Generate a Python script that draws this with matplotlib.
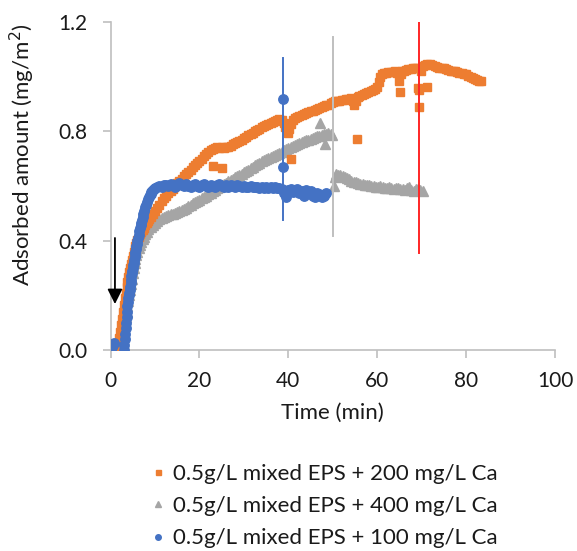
import matplotlib
matplotlib.use("Agg")
import matplotlib.pyplot as plt
from matplotlib.lines import Line2D

# ---------------- data ----------------
t_200 = [1.4, 1.6, 1.8, 2.0, 2.2, 2.4, 2.6, 2.8, 3.0, 3.2, 3.4, 3.6, 3.8, 4.0, 4.2, 4.4, 4.6, 4.8, 5.0,
         5.2, 5.4, 5.6, 5.8, 6.0, 6.3, 6.6, 6.9, 7.2, 7.5, 7.8, 8.1, 8.4, 8.7, 9.0, 9.5, 10, 10.5, 11, 11.5,
         12, 12.5, 13, 13.5, 14, 14.5, 15, 15.5, 16,
         16.5, 17, 17.5, 18, 18.5, 19, 19.5, 20, 20.5, 21, 21.5, 22, 22.5, 23, 23.5, 24, 24.5, 25, 25.5, 26,
         26.5, 27, 27.5, 28, 28.5, 29, 29.5, 30, 30.5, 31, 31.5, 32, 32.5, 33, 33.5, 34, 34.5, 35, 35.5, 36,
         36.5, 37, 37.5, 38, 38.5, 39, 39.3, 39.6, 39.9, 40.2, 40.5, 41, 41.5, 42, 42.5, 43, 43.5, 44, 44.5, 45,
         45.5, 46, 46.5, 47, 47.5, 48, 48.5, 49, 49.5, 50, 50.5, 51, 51.5, 52, 52.5, 53, 53.5, 54, 54.5, 54.8,
         55.2, 55.6, 56, 56.5, 57, 57.5, 58, 58.5, 59, 59.5, 60, 60.3, 60.6, 61, 61.5, 62, 62.5, 63, 63.5, 64,
         64.5, 65, 65.3, 65.6, 66, 66.5, 67, 67.5, 68, 68.5, 68.9, 69.1, 69.3, 69.5, 69.8, 70.2, 70.7, 71.2, 71.8, 72.3,
         73, 73.5, 74, 74.5, 75, 75.5, 76, 76.5, 77, 77.5, 78, 78.5, 79, 79.5, 80, 80.5, 81, 81.5, 82, 82.5,
         83, 83.4,
         23.0, 25.1, 40.7, 55.4, 65.2, 71.2]
v_200 = [0.0, 0.01, 0.025, 0.045, 0.065, 0.09, 0.115, 0.14, 0.165, 0.19, 0.21, 0.23, 0.25, 0.268, 0.285, 0.3, 0.315, 0.33, 0.344,
         0.358, 0.37, 0.382, 0.393, 0.403, 0.413, 0.423, 0.432, 0.44, 0.448, 0.456, 0.464, 0.472, 0.48, 0.487, 0.497, 0.507, 0.52, 0.532, 0.544,
         0.555, 0.565, 0.575, 0.583, 0.59, 0.6, 0.61, 0.618, 0.626,
         0.635, 0.645, 0.652, 0.66, 0.668, 0.676, 0.684, 0.692, 0.70, 0.708, 0.716, 0.724, 0.73, 0.735, 0.74, 0.742, 0.738, 0.743, 0.74, 0.744,
         0.742, 0.746, 0.752, 0.757, 0.762, 0.766, 0.77, 0.775, 0.78, 0.785, 0.79, 0.795, 0.80, 0.804, 0.81, 0.815, 0.82, 0.824, 0.828, 0.832,
         0.835, 0.838, 0.84, 0.845, 0.842, 0.83, 0.815, 0.80, 0.795, 0.81, 0.826, 0.84, 0.848, 0.853, 0.856, 0.86, 0.864, 0.868, 0.872, 0.875,
         0.876, 0.878, 0.882, 0.886, 0.89, 0.893, 0.895, 0.898, 0.902, 0.907, 0.91, 0.91, 0.912, 0.914, 0.916, 0.918, 0.92, 0.922, 0.91, 0.895,
         0.91, 0.925, 0.93, 0.934, 0.937, 0.94, 0.943, 0.946, 0.95, 0.955, 0.962, 0.98, 1.0, 1.01, 1.012, 1.015, 1.016, 1.017, 1.018, 1.02,
         1.015, 0.985, 1.01, 1.02, 1.022, 1.025, 1.027, 1.028, 1.03, 1.032, 1.03, 0.96, 0.89, 0.95, 1.02, 1.038, 1.042, 1.045, 1.045, 1.044,
         1.04, 1.035, 1.032, 1.03, 1.03, 1.028, 1.025, 1.022, 1.02, 1.02, 1.018, 1.015, 1.012, 1.01, 1.008, 1.003, 0.998, 0.994, 0.99, 0.987,
         0.985, 0.984,
         0.674, 0.665, 0.699, 0.772, 0.945, 0.962]

t_400 = [1.4, 1.6, 1.8, 2.0, 2.2, 2.4, 2.6, 2.8, 3.0, 3.2, 3.4, 3.6, 3.8, 4.0, 4.2, 4.4, 4.6, 4.8, 5.0, 5.2,
         5.4, 5.6, 5.8, 6.0, 6.3, 6.6, 6.9, 7.2, 7.5, 7.8, 8.1, 8.5, 9.0, 9.5, 10, 10.5, 11, 11.5, 12, 12.5,
         13, 13.5, 14, 14.5, 15, 15.5, 16,
         16.5, 17, 17.5, 18, 18.5, 19, 19.5, 20, 20.5, 21, 21.5, 22, 22.5, 23, 23.5, 24, 24.5, 25, 25.5, 26,
         26.5, 27, 27.5, 28, 28.5, 29, 29.5, 30, 30.5, 31, 31.5, 32, 32.5, 33, 33.5, 34, 34.5, 35, 35.5, 36,
         36.5, 37, 37.5, 38, 38.5, 39, 39.5, 40, 40.5, 41, 41.5, 42, 42.5, 43, 43.5, 44, 44.5, 45, 45.5, 46,
         46.5, 47, 47.5, 48, 48.5, 49, 49.5, 49.9, 47.1, 48.2,
         50.3, 50.5, 50.8, 51.2, 51.7, 52.2, 52.7, 53.2, 53.7, 54.2, 54.7, 55.2, 55.7, 56.2, 56.7, 57.2, 57.7, 58.2, 58.7, 59.2,
         59.7, 60.2, 60.7, 61.2, 61.7, 62.2, 62.7, 63.2, 63.7, 64.2, 64.7, 65.2, 65.7, 66.2, 66.7, 67.2, 67.7, 68.2, 68.7, 69.2,
         69.7, 70.2]
v_400 = [0.0, 0.005, 0.01, 0.02, 0.03, 0.04, 0.055, 0.07, 0.085, 0.1, 0.12, 0.14, 0.16, 0.18, 0.2, 0.22, 0.24, 0.26, 0.28, 0.3,
         0.318, 0.334, 0.348, 0.36, 0.373, 0.385, 0.396, 0.406, 0.415, 0.424, 0.432, 0.441, 0.45, 0.458, 0.465, 0.472, 0.478, 0.483, 0.487, 0.49,
         0.493, 0.496, 0.499, 0.502, 0.505, 0.509, 0.513,
         0.517, 0.521, 0.526, 0.531, 0.536, 0.54, 0.545, 0.55, 0.555, 0.56, 0.565, 0.57, 0.576, 0.582, 0.587, 0.592, 0.597, 0.602, 0.607, 0.612,
         0.617, 0.622, 0.627, 0.632, 0.636, 0.641, 0.645, 0.65, 0.655, 0.66, 0.665, 0.67, 0.675, 0.68, 0.685, 0.69, 0.694, 0.698, 0.702, 0.706,
         0.71, 0.714, 0.718, 0.722, 0.726, 0.73, 0.734, 0.738, 0.742, 0.746, 0.75, 0.753, 0.756, 0.76, 0.764, 0.767, 0.77, 0.773, 0.776, 0.779,
         0.782, 0.784, 0.786, 0.789, 0.791, 0.793, 0.792, 0.785, 0.832, 0.753,
         0.60, 0.632, 0.645, 0.642, 0.64, 0.635, 0.632, 0.628, 0.624, 0.62, 0.616, 0.613, 0.61, 0.608, 0.606, 0.605, 0.603, 0.605, 0.601, 0.60,
         0.598, 0.597, 0.6, 0.596, 0.594, 0.593, 0.595, 0.592, 0.59, 0.592, 0.594, 0.59, 0.588, 0.586, 0.592, 0.598, 0.585, 0.582, 0.588, 0.59,
         0.585, 0.58]

t_100 = [0.0, 0.2, 0.4, 0.6, 0.8,
         3.0, 3.1, 3.2, 3.3, 3.4, 3.5, 3.6, 3.7, 3.8, 3.9, 4.0, 4.1, 4.2, 4.3, 4.4, 4.5, 4.6, 4.7, 4.8, 4.9,
         5.0, 5.1, 5.2, 5.3, 5.4, 5.5, 5.6, 5.7, 5.8, 5.9, 6.0, 6.15, 6.3, 6.45, 6.6, 6.75, 6.9, 7.05, 7.2, 7.4,
         7.6, 7.8, 8.0, 8.2, 8.4, 8.6, 8.8, 9.0, 9.2, 9.4, 9.6, 9.8, 10.0, 10.4,
         11, 11.5, 12, 12.5, 13, 13.5, 14, 14.5, 15, 15.5, 16, 16.5, 17, 17.5, 18, 18.5, 19, 19.5, 20, 20.5,
         21, 21.5, 22, 22.5, 23, 23.5, 24, 24.5, 25, 25.5, 26, 26.5, 27, 27.5, 28, 28.5, 29, 29.5, 30, 30.5,
         31, 31.5, 32, 32.5, 33, 33.5, 34, 34.5, 35, 35.5, 36, 36.5, 37, 37.5, 38, 38.5, 38.8, 38.9,
         39, 39.5, 40, 40.5, 41, 41.5, 42, 42.5, 43, 43.5, 44, 44.5, 45, 45.5, 46, 46.5, 47, 47.5, 48, 48.5]
v_100 = [0.0, 0.005, 0.01, 0.02, 0.025,
         0.0, 0.02, 0.04, 0.06, 0.08, 0.1, 0.12, 0.14, 0.16, 0.175, 0.19, 0.2, 0.21, 0.22, 0.232, 0.245, 0.257, 0.27, 0.28, 0.29,
         0.3, 0.31, 0.32, 0.33, 0.34, 0.35, 0.36, 0.37, 0.38, 0.389, 0.398, 0.41, 0.422, 0.434, 0.446, 0.456, 0.466, 0.476, 0.486, 0.498,
         0.51, 0.522, 0.532, 0.542, 0.551, 0.559, 0.566, 0.572, 0.578, 0.583, 0.587, 0.59, 0.593, 0.596,
         0.60, 0.598, 0.603, 0.605, 0.60, 0.607, 0.603, 0.598, 0.605, 0.61, 0.604, 0.60, 0.606, 0.60, 0.595, 0.603, 0.608, 0.60, 0.596, 0.603,
         0.607, 0.60, 0.597, 0.604, 0.60, 0.596, 0.602, 0.607, 0.60, 0.596, 0.602, 0.598, 0.603, 0.60, 0.597, 0.602, 0.60, 0.596, 0.601, 0.598,
         0.596, 0.60, 0.595, 0.598, 0.596, 0.593, 0.597, 0.594, 0.596, 0.592, 0.595, 0.593, 0.596, 0.592, 0.594, 0.59, 0.92, 0.668,
         0.575, 0.56, 0.585, 0.59, 0.578, 0.585, 0.59, 0.575, 0.58, 0.565, 0.585, 0.575, 0.58, 0.565, 0.558, 0.575, 0.57, 0.56, 0.565, 0.575]

labels = ["0.5g/L mixed EPS + 200 mg/L Ca",
          "0.5g/L mixed EPS + 400 mg/L Ca",
          "0.5g/L mixed EPS + 100 mg/L Ca"]

# vertical marker lines drawn on the chart (time, bottom, top)
vline_t = [38.8, 50.0, 69.3]
vline_lo = [0.474, 0.417, 0.356]
vline_hi = [1.07, 1.146, 1.233]
vline_colors = ["#4472C4", "#BFBFBF", "#FF2626"]

# arrow marking the injection
arrow_t = 1.0
arrow_from = 0.42
arrow_to = 0.158

xticks = [0, 20, 40, 60, 80, 100]
yticks = [0.0, 0.4, 0.8, 1.2]

# ---------------- plot ----------------
plt.rcParams['font.family'] = ['Lato', 'DejaVu Sans']
W, H = 577, 551
fig = plt.figure(figsize=(W / 100, H / 100), dpi=100)
ax = fig.add_axes([110.5 / W, 1 - 350 / H, (555 - 110.5) / W, (350 - 22) / H])

c_or, c_gr, c_bl = "#ED7D31", "#A5A5A5", "#4472C4"
ax.plot(t_400, v_400, ls="none", marker="^", ms=6.5, color=c_gr, mec=c_gr, zorder=2)
ax.plot(t_200, v_200, ls="none", marker="s", ms=6.0, color=c_or, mec=c_or, zorder=3)
ax.plot(t_100, v_100, ls="none", marker="o", ms=6.8, color=c_bl, mec=c_bl, zorder=4)

for x, lo, hi, c in zip(vline_t, vline_lo, vline_hi, vline_colors):
    ax.plot([x, x], [lo, hi], color=c, lw=1.4, zorder=5)

ax.annotate("", xy=(arrow_t, arrow_to), xytext=(arrow_t, arrow_from),
            arrowprops=dict(arrowstyle="-|>,head_length=0.9,head_width=0.45", color="black", lw=1.3),
            zorder=6)

ax.set_xlim(0, 100)
ax.set_ylim(0, 1.2)
ax.set_xticks(xticks)
ax.set_yticks(yticks)
ax.set_yticklabels([f"{v:.1f}" for v in yticks])
for s in ["top", "right"]:
    ax.spines[s].set_visible(False)
for s in ["left", "bottom"]:
    ax.spines[s].set_color("#BFBFBF")
    ax.spines[s].set_linewidth(1.2)
ax.tick_params(axis="both", colors="#BFBFBF", length=5.8, width=1.2, labelsize=15, labelcolor="#1a1a1a")
ax.tick_params(axis="y", pad=10.5)
ax.tick_params(axis="x", pad=9.5)
ax.set_xlabel("Time (min)", fontsize=16, color="#1a1a1a", labelpad=8)
ax.set_ylabel("Adsorbed amount (mg/m$^2$)", fontsize=16, color="#1a1a1a")
ax.yaxis.set_label_coords(-0.165, 0.595)

handles = [Line2D([], [], ls="none", marker="s", ms=3.6, color=c_or),
           Line2D([], [], ls="none", marker="^", ms=4.0, color=c_gr),
           Line2D([], [], ls="none", marker="o", ms=4.0, color=c_bl)]
fig.legend(handles, labels, loc="center", bbox_to_anchor=(325 / W, 1 - 506 / H),
           frameon=False, fontsize=16, handlelength=0.5, handletextpad=0.45,
           labelspacing=0.56, labelcolor="#1a1a1a", borderpad=0.1)

fig.savefig("out.png", dpi=100)
